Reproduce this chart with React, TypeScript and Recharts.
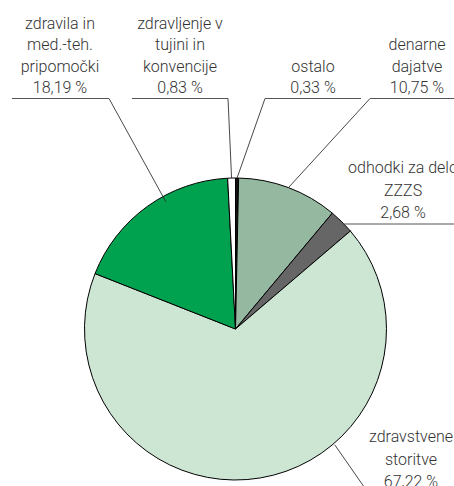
import React from 'react';
import { PieChart, Pie, Cell } from 'recharts';

const categories = [
  'ostalo',
  'denarne dajatve',
  'odhodki za delo ZZZS',
  'zdravstvene storitve',
  'zdravila in med.-teh. pripomočki',
  'zdravljenje v tujini in konvencije',
];
const labelLines = [
  ['ostalo'],
  ['denarne', 'dajatve'],
  ['odhodki za delo', 'ZZZS'],
  ['zdravstvene', 'storitve'],
  ['zdravila in', 'med.-teh.', 'pripomočki'],
  ['zdravljenje v', 'tujini in', 'konvencije'],
];
const shares = [0.33, 10.75, 2.68, 67.22, 18.19, 0.83];

const colors = ['#111111', '#95b8a1', '#666666', '#cde6d4', '#00a24f', '#ffffff'];

// label placement (layout only)
const labelLayout = [
  { tx: 313, last: 93, lh: 21.3, hx1: 265, hx2: 361, hy: 98.5, ex: 265, ang: null, rf: 1 },
  { tx: 417, last: 93, lh: 21.3, hx1: 370, hx2: 470, hy: 98.5, ex: 370, ang: null, rf: 1 },
  { tx: 403, last: 218, lh: 22.5, hx1: 343, hx2: 470, hy: 224, ex: 343, ang: 46, rf: 1 },
  { tx: 411, last: 487, lh: 22.5, hx1: 369, hx2: 470, hy: 494, ex: 369, ang: 139.4, rf: 1.01 },
  { tx: 60, last: 93, lh: 21.3, hx1: 12, hx2: 109, hy: 98.5, ex: 109, ang: 331.3, rf: 0.96 },
  { tx: 180, last: 93, lh: 21.3, hx1: 132, hx2: 228, hy: 98.5, ex: 228, ang: null, rf: 1 },
];

const data = categories.map((name, i) => ({ name, value: shares[i] }));

const fmt = (v: number) => v.toFixed(2).replace('.', ',') + ' %';

const renderLabel = (props: any) => {
  const { cx, cy, outerRadius, midAngle, index } = props;
  const L = labelLayout[index];
  const mathAngle = L.ang === null ? midAngle : 90 - L.ang;
  const rad = (mathAngle * Math.PI) / 180;
  const r = outerRadius * L.rf;
  const ax = cx + r * Math.cos(rad);
  const ay = cy - r * Math.sin(rad);
  const lines = [...labelLines[index], fmt(shares[index])];
  const first = L.last - L.lh * (lines.length - 1);
  return (
    <g key={`lbl-${index}`}>
      <polyline
        points={`${ax},${ay} ${L.ex},${L.hy}`}
        fill="none"
        stroke="#333"
        strokeWidth={0.9}
      />
      <line x1={L.hx1} x2={L.hx2} y1={L.hy} y2={L.hy} stroke="#555" strokeWidth={1} />
      <text
        x={L.tx}
        textAnchor="middle"
        fontFamily="Roboto, 'Noto Sans', sans-serif"
        fontWeight={300}
        fontSize={16}
        fill="#333"
      >
        {lines.map((t, k) => (
          <tspan key={k} x={L.tx} y={first + k * L.lh}>
            {t}
          </tspan>
        ))}
      </text>
    </g>
  );
};

export default function App() {
  return (
    <div style={{ position: 'absolute', left: 0, top: 0, width: 454, height: 486, background: '#fff', overflow: 'hidden' }}>
      <PieChart width={454} height={486} margin={{ top: 0, right: 0, bottom: 0, left: 0 }}>
        <Pie
          data={data}
          dataKey="value"
          nameKey="name"
          cx={235.5}
          cy={329}
          outerRadius={151}
          startAngle={90}
          endAngle={-270}
          stroke="#000"
          strokeWidth={1}
          label={renderLabel}
          labelLine={false}
          isAnimationActive={false}
        >
          {data.map((d, i) => (
            <Cell key={d.name} fill={colors[i]} />
          ))}
        </Pie>
      </PieChart>
    </div>
  );
}
